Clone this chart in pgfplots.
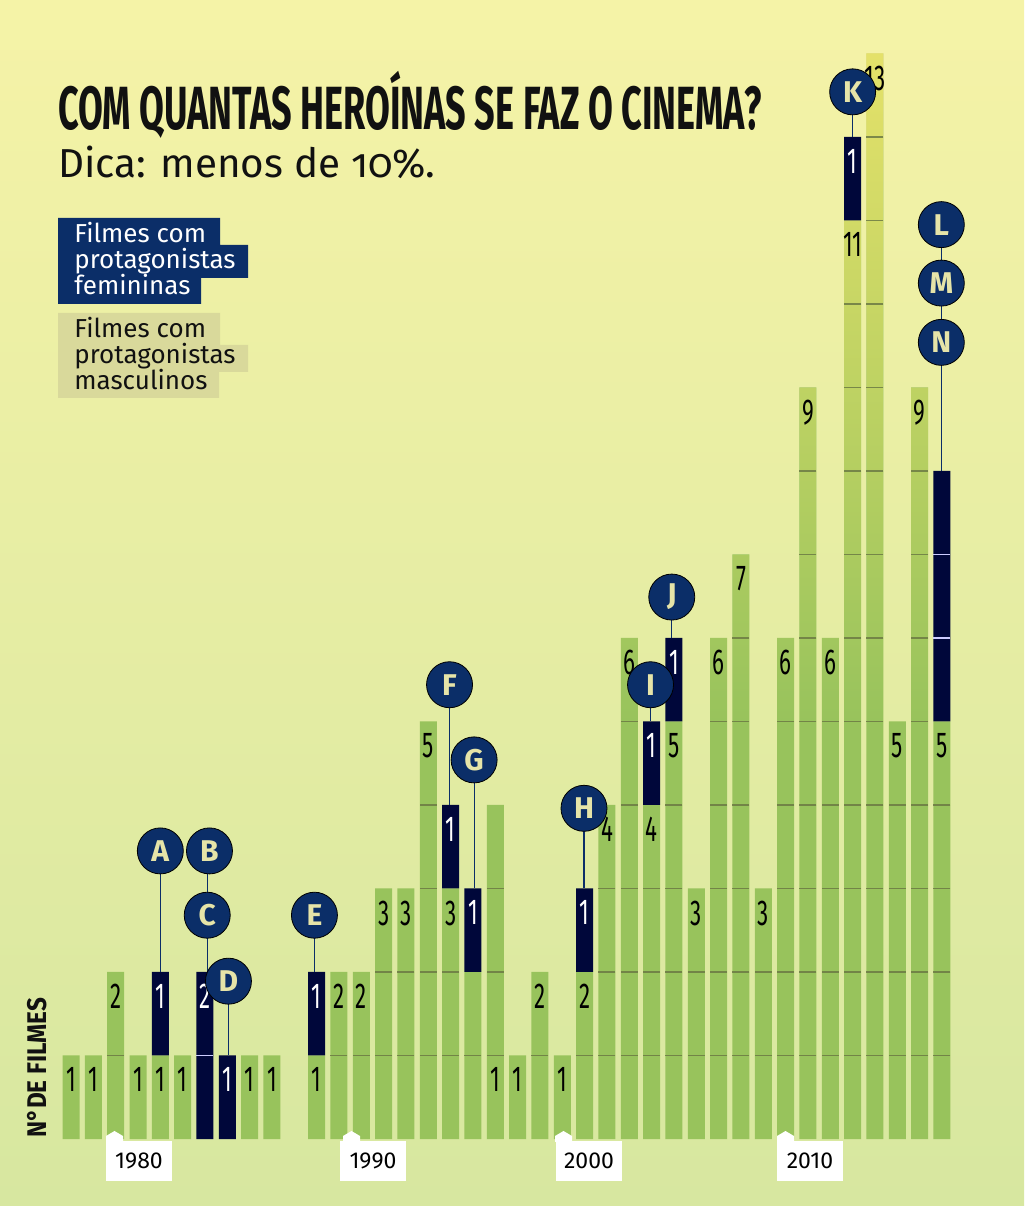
\documentclass[border=0pt]{standalone}
\usepackage{pgfplots}
\pgfplotsset{compat=1.18}
\usepackage{pgfplotstable}
\usepackage{fontspec}
\setmainfont{Fira Sans}
\newfontfamily\titlefont[FakeStretch=0.59]{Fira Sans}
\newfontfamily\numfont[FakeStretch=0.62]{Fira Sans}
\newfontfamily\subfont[Numbers=OldStyle]{Fira Sans}
\newfontfamily\axfont[FakeStretch=0.9]{Fira Sans}

\definecolor{bgtop}{HTML}{F5F3A7}
\definecolor{bgmid}{HTML}{EDF0A1}
\definecolor{bgbot}{HTML}{D7E7A0}
\definecolor{bargreen}{HTML}{98C35C}
\definecolor{baryellow}{HTML}{E6E26A}
\definecolor{barnavy}{HTML}{00073A}
\definecolor{circnavy}{HTML}{0B2E68}
\definecolor{circtext}{HTML}{E6E4A8}
\definecolor{gridol}{HTML}{6C7A44}
\definecolor{legbeige}{HTML}{D9D99B}
\definecolor{titleblack}{HTML}{111111}

% male-lead films per year
\pgfplotstableread{
year male
1978 1
1979 1
1980 2
1981 1
1982 1
1983 1
1984 0
1985 0
1986 1
1987 1
1988 0
1989 1
1990 2
1991 2
1992 3
1993 3
1994 5
1995 3
1996 2
1997 4
1998 1
1999 2
2000 1
2001 2
2002 4
2003 6
2004 4
2005 5
2006 3
2007 6
2008 7
2009 3
2010 6
2011 9
2012 6
2013 11
2014 13
2015 5
2016 9
2017 5
}\maledata

% female-lead films (years with any), with the male count they sit on
\pgfplotstableread{
year male female
1982 1 1
1984 0 2
1985 0 1
1989 1 1
1995 3 1
1996 2 1
2001 2 1
2004 4 1
2005 5 1
2013 11 1
2017 5 3
}\femaledata

\pgfplotstableread{
x y lab
1978 1 1
1979 1 1
1980 2 2
1981 1 1
1982 1 1
1983 1 1
1986 1 1
1987 1 1
1989 1 1
1990 2 2
1991 2 2
1992 3 3
1993 3 3
1994 5 5
1995 3 3
1997 1 1
1998 1 1
1999 2 2
2000 1 1
2001 2 2
2002 4 4
2003 6 6
2004 4 4
2005 5 5
2006 3 3
2007 6 6
2008 7 7
2009 3 3
2010 6 6
2011 9 9
2012 6 6
2013 11 11
2014 13 13
2015 5 5
2016 9 9
2017 5 5
}\greenlabels

\pgfplotstableread{
x y lab
1982 2 1
1984 2 2
1985 1 1
1989 2 1
1995 4 1
1996 3 1
2001 3 1
2004 5 1
2005 6 1
2013 12 1
}\navylabels

\pgfplotstableread{
x y lab
1982 3.45 A
1984.2 3.45 B
1984.1 2.68 C
1985.05 1.89 D
1988.9 2.68 E
1994.95 5.44 F
1996.05 4.54 G
2000.97 3.96 H
2003.95 5.44 I
2004.9 6.49 J
2013 12.54 K
2016.97 10.95 L
2016.97 10.25 M
2016.97 9.54 N
}\circles

\pgfplotsset{base/.style={scale only axis, width=480.1667pt, height=551.125pt,
  xmin=1976, xmax=2019, ymin=0, ymax=13.2, hide axis,
  at={(13.1667pt,33.5pt)}, anchor=south west, clip=false}}

\begin{document}
\begin{tikzpicture}
\useasboundingbox (0,0) rectangle (512pt,603pt);
\shade[top color=bgtop, middle color=bgmid, bottom color=bgbot] (0,0) rectangle (512pt,603pt);

% green bars
\begin{axis}[base]
\addplot[ybar, bar width=8.5pt, fill=bargreen, draw=none,
  y filter/.expression={y==0 ? nan : y}, unbounded coords=discard] table[x=year,y=male]{\maledata};
\end{axis}
% tint of the upper part of the green bars toward yellow
\begin{axis}[base]
\addplot[draw=none, fill=none, mark=none] coordinates {(1976,0)};
\shade[blend mode=lighten, bottom color=bargreen, top color=baryellow] (axis cs:1976,5) rectangle (axis cs:2019,13.2);
\end{axis}

% navy bars stacked on the green ones
\begin{axis}[base, ybar stacked, bar width=8.5pt]
\addplot[draw=none, fill=none] table[x=year,y=male]{\femaledata};
\addplot[draw=none, fill=barnavy] table[x=year,y=female]{\femaledata};
\end{axis}

% unit lines, labels, markers
\begin{axis}[base]
\addplot[only marks, mark=-, mark size=4.25pt, color=gridol, mark options={line width=0.7pt, opacity=0.85}] coordinates {
(1980,1) (1990,1) (1991,1) (1992,1) (1992,2) (1993,1) (1993,2)
(1994,1) (1994,2) (1994,3) (1994,4) (1995,1) (1995,2) (1996,1)
(1997,1) (1997,2) (1997,3) (1999,1) (2001,1) (2002,1) (2002,2) (2002,3)
(2003,1) (2003,2) (2003,3) (2003,4) (2003,5)
(2004,1) (2004,2) (2004,3)
(2005,1) (2005,2) (2005,3) (2005,4)
(2006,1) (2006,2)
(2007,1) (2007,2) (2007,3) (2007,4) (2007,5)
(2008,1) (2008,2) (2008,3) (2008,4) (2008,5) (2008,6)
(2009,1) (2009,2)
(2010,1) (2010,2) (2010,3) (2010,4) (2010,5)
(2011,1) (2011,2) (2011,3) (2011,4) (2011,5) (2011,6) (2011,7) (2011,8)
(2012,1) (2012,2) (2012,3) (2012,4) (2012,5)
(2013,1) (2013,2) (2013,3) (2013,4) (2013,5) (2013,6) (2013,7) (2013,8) (2013,9) (2013,10)
(2014,1) (2014,2) (2014,3) (2014,4) (2014,5) (2014,6) (2014,7) (2014,8) (2014,9) (2014,10) (2014,11) (2014,12)
(2015,1) (2015,2) (2015,3) (2015,4)
(2016,1) (2016,2) (2016,3) (2016,4) (2016,5) (2016,6) (2016,7) (2016,8)
(2017,1) (2017,2) (2017,3) (2017,4)
};
\addplot[only marks, mark=-, mark size=4.25pt, color=white!80!blue, mark options={line width=0.6pt}] coordinates {(1984,1) (2017,6) (2017,7)};

\addplot[only marks, mark=none, point meta=explicit symbolic, nodes near coords,
  every node near coord/.append style={anchor=north, yshift=-6pt, inner sep=0pt,
  font=\numfont\fontsize{18}{18}\selectfont, text=black}] table[x=x,y=y,meta=lab]{\greenlabels};
\addplot[only marks, mark=none, point meta=explicit symbolic, nodes near coords,
  every node near coord/.append style={anchor=north, yshift=-6pt, inner sep=0pt,
  font=\numfont\fontsize{18}{18}\selectfont, text=white}] table[x=x,y=y,meta=lab]{\navylabels};

% connector lines
\addplot[circnavy, line width=0.6pt] coordinates {(1982,3.45) (1982,2)};
\addplot[circnavy, line width=0.6pt] coordinates {(1984.1,3.45) (1984.1,2)};
\addplot[circnavy, line width=0.6pt] coordinates {(1985.05,1.89) (1985.05,1)};
\addplot[circnavy, line width=0.6pt] coordinates {(1988.9,2.68) (1988.9,2)};
\addplot[circnavy, line width=0.6pt] coordinates {(1994.95,5.44) (1994.95,4)};
\addplot[circnavy, line width=0.6pt] coordinates {(1996.05,4.54) (1996.05,3)};
\addplot[circnavy, line width=0.6pt] coordinates {(2000.97,3.96) (2000.97,3)};
\addplot[circnavy, line width=0.6pt] coordinates {(2003.95,5.44) (2003.95,5)};
\addplot[circnavy, line width=0.6pt] coordinates {(2004.9,6.49) (2004.9,6)};
\addplot[circnavy, line width=0.6pt] coordinates {(2013,12.54) (2013,12)};
\addplot[circnavy, line width=0.6pt] coordinates {(2016.97,10.95) (2016.97,8)};

% lettered circles
\addplot[only marks, mark=*, mark size=11.5pt, mark options={fill=circnavy, draw=none},
  point meta=explicit symbolic, nodes near coords,
  every node near coord/.append style={anchor=center, inner sep=0pt,
  font=\bfseries\fontsize{15}{15}\selectfont, text=circtext}] table[x=x,y=y,meta=lab]{\circles};
\end{axis}

% texts and decorations in pixel units (origin at top left)
\begin{scope}[shift={(0pt,603pt)}, x=0.5pt, y=-0.5pt]
\node[anchor=base west, inner sep=0pt, text=titleblack] at (58,130)
  {\titlefont\bfseries\fontsize{30.5}{30.5}\selectfont COM QUANTAS HEROÍNAS SE FAZ O CINEMA?};
\node[anchor=base west, inner sep=0pt, text=titleblack] at (58,178)
  {\subfont\fontsize{20.2}{20.2}\selectfont Dica: menos de 10\%.};

\fill[circnavy] (58,218) -- (220,218) -- (220,245) -- (248,245) -- (248,278) -- (201,278) -- (201,304) -- (58,304) -- cycle;
\node[anchor=base west, inner sep=0pt, text=white] at (74,243) {\fontsize{13}{13}\selectfont Filmes com};
\node[anchor=base west, inner sep=0pt, text=white] at (74,269) {\fontsize{13}{13}\selectfont protagonistas};
\node[anchor=base west, inner sep=0pt, text=white] at (74,295) {\fontsize{13}{13}\selectfont femininas};

\fill[legbeige] (58,313) -- (220,313) -- (220,345) -- (248,345) -- (248,372) -- (219,372) -- (219,398) -- (58,398) -- cycle;
\node[anchor=base west, inner sep=0pt, text=titleblack] at (74,338) {\fontsize{13}{13}\selectfont Filmes com};
\node[anchor=base west, inner sep=0pt, text=titleblack] at (74,364) {\fontsize{13}{13}\selectfont protagonistas};
\node[anchor=base west, inner sep=0pt, text=titleblack] at (74,390) {\fontsize{13}{13}\selectfont masculinos};

\node[anchor=base west, inner sep=0pt, rotate=90, text=titleblack] at (47,1138)
  {\axfont\bfseries\fontsize{13.5}{13.5}\selectfont N°DE FILMES};

\foreach \L/\P/\Y in {106/106/1980, 340/343/1990, 556/555/2000, 777/777/2010}{
  \fill[white] (\L,1141) rectangle (\L+66,1181);
  \fill[white] (\P,1142) -- (\P,1136) -- (\P+8.5,1131) -- (\P+17,1136) -- (\P+17,1142) -- cycle;
  \node[anchor=base, inner sep=0pt, text=black] at (\L+33,1169) {\fontsize{11.5}{11.5}\selectfont \Y};
}
\end{scope}
\end{tikzpicture}
\end{document}
